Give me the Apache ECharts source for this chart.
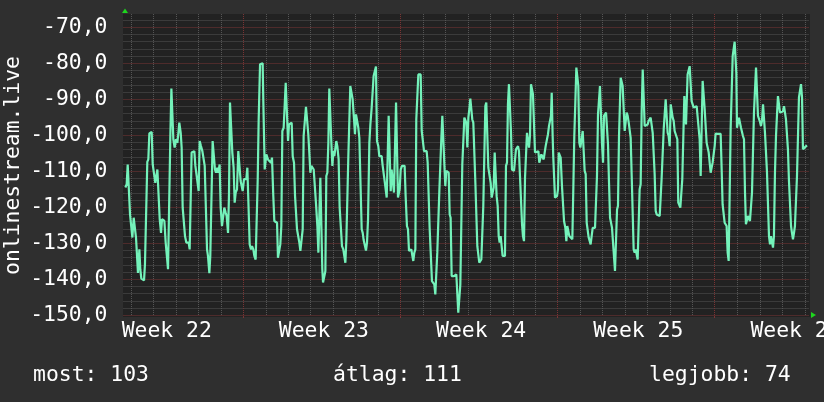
<!DOCTYPE html>
<html><head><meta charset="utf-8">
<script src="https://cdn.jsdelivr.net/npm/echarts@6/dist/echarts.min.js"></script>
<style>html,body{margin:0;padding:0;background:#2f2f2f}#c{width:824px;height:402px}</style>
</head><body><div id="c"></div>
<script>
// x = hours since the left edge of the plot, y = signal value
const seg1 = [[2.0,-114.5],[3.4,-113.6],[4.5,-108.1],[5.9,-108.5],[7.0,-122.0],[8.4,-122.4],[9.5,-128.4],[10.9,-122.9],[12.3,-123.2],[13.4,-128.4],[14.5,-128.7],[15.5,-138.2],[17.0,-131.7],[18.0,-137.2],[19.1,-139.8],[20.9,-140.0],[22.0,-140.3],[23.0,-135.8],[24.5,-135.4],[25.5,-107.4],[26.6,-106.7],[27.7,-99.5],[29.1,-99.3],[30.2,-99.1],[31.3,-108.1],[32.7,-108.5],[34.1,-113.2],[35.2,-113.2],[36.3,-109.5],[37.7,-109.9],[38.8,-123.3],[40.2,-127.1],[41.3,-123.3],[42.7,-123.3],[43.8,-123.8],[45.2,-129.8],[46.3,-130.3],[47.7,-137.2],[48.8,-137.2],[50.2,-100.2],[51.3,-87.0],[52.3,-87.2],[53.4,-101.1],[54.8,-103.4],[56.3,-101.1],[57.7,-102.1],[58.8,-99.3],[59.8,-96.5],[61.3,-99.3],[62.3,-103.4],[63.4,-120.1],[64.8,-120.6],[65.9,-128.0],[67.3,-129.8],[68.4,-129.8],[69.8,-129.8],[70.9,-131.7],[72.0,-131.7],[73.0,-104.8],[74.5,-104.4],[75.9,-104.4],[77.0,-108.5],[78.4,-111.3],[79.5,-111.3],[80.5,-115.5],[81.6,-101.6],[83.0,-103.0],[84.5,-104.4],[85.5,-104.6],[87.0,-108.5],[88.4,-108.5],[89.5,-131.7],[90.5,-133.5],[92.0,-138.3],[93.0,-133.5],[94.5,-133.5],[95.5,-101.6],[96.6,-101.6],[98.0,-109.5],[99.1,-110.4],[100.5,-109.0],[101.6,-110.4],[103.0,-108.1],[104.1,-120.1],[105.5,-125.2],[106.6,-125.4],[108.0,-120.1],[109.5,-121.5],[110.5,-122.4],[112.0,-127.1],[113.0,-116.9],[114.1,-90.9],[115.5,-90.8],[116.6,-104.8],[118.0,-109.0],[119.1,-118.7],[120.2,-115.9],[121.6,-115.0],[123.0,-104.4],[124.1,-103.9],[125.5,-112.7],[126.6,-113.2],[127.7,-115.5],[129.1,-112.2],[130.5,-112.2],[131.6,-112.2],[132.7,-109.0],[134.1,-109.0],[135.2,-130.3],[136.6,-131.7],[137.7,-130.8],[139.1,-131.7],[140.2,-133.5],[141.6,-134.5],[142.7,-134.9],[143.8,-112.2],[144.8,-96.0],[146.3,-80.3],[147.7,-79.8]];
const seg2 = [[149.1,-80.0],[149.8,-90.5],[151.3,-109.5],[152.3,-109.5],[153.0,-105.3],[154.8,-106.7],[156.3,-106.2],[158.0,-107.6],[159.1,-106.2],[160.5,-116.9],[161.6,-123.8],[163.0,-124.3],[164.5,-124.3],[165.5,-134.0],[167.0,-134.0],[168.0,-130.3],[169.1,-125.2],[170.2,-98.8],[171.6,-97.9],[172.7,-97.4],[173.8,-85.4],[174.8,-85.4],[176.3,-101.6],[177.3,-97.0],[178.8,-96.5],[180.2,-96.5],[181.3,-105.8],[182.7,-107.6],[183.8,-116.9],[184.8,-117.3],[185.9,-126.1],[187.3,-126.6],[188.4,-129.8],[189.5,-132.1],[190.9,-132.1],[192.0,-126.1],[193.0,-100.2],[194.5,-99.7],[195.5,-92.1],[196.6,-92.3],[198.0,-99.7],[199.1,-104.8],[200.2,-110.4],[201.3,-108.5],[202.7,-108.5],[203.8,-109.5],[205.2,-109.9],[206.3,-119.2],[207.7,-125.2],[208.8,-132.6],[209.8,-133.1],[210.9,-111.8],[212.0,-111.8],[213.0,-137.2],[213.8,-140.9],[215.2,-140.9],[216.3,-137.7],[217.3,-111.3],[218.4,-110.4],[219.5,-102.1],[220.5,-87.0],[221.6,-87.2],[222.7,-102.1],[223.8,-108.5],[224.8,-104.4],[225.9,-105.8],[227.0,-105.3],[228.0,-101.6],[229.1,-103.0],[230.5,-106.7],[231.6,-120.1],[233.0,-120.6],[234.1,-130.8],[235.5,-131.7],[236.6,-132.1],[237.7,-135.4],[238.8,-128.9],[239.8,-128.4],[240.9,-105.8],[242.0,-105.3],[243.0,-86.3],[244.5,-86.3],[245.5,-90.0],[247.0,-95.6],[248.0,-99.7],[249.1,-94.2],[250.5,-94.2],[251.6,-97.9],[252.7,-100.7],[254.1,-115.0],[255.2,-126.1],[256.3,-127.1],[257.3,-129.1],[258.8,-129.6],[259.8,-132.0],[260.9,-129.8],[262.0,-123.3],[263.4,-102.1],[264.5,-97.0],[265.9,-92.3],[267.0,-92.3],[268.0,-83.5],[269.5,-83.5],[270.5,-80.9],[271.6,-101.6],[273.0,-103.0],[274.1,-105.8],[275.2,-105.8],[276.6,-105.8],[277.7,-108.5],[278.8,-109.0],[279.8,-112.7],[280.9,-113.2],[282.0,-117.3],[283.0,-117.3],[284.1,-94.6],[285.2,-94.2],[286.3,-115.5],[287.3,-109.5],[288.4,-109.0],[289.8,-115.9],[290.9,-115.9],[292.0,-90.9],[293.0,-90.9],[294.1,-117.3],[295.2,-117.8]];
const seg3 = [[295.9,-115.0],[297.0,-109.5],[298.4,-108.5],[299.8,-108.1],[301.2,-108.5],[302.3,-116.9],[303.7,-125.2],[304.8,-126.1],[305.9,-132.1],[307.3,-132.6],[308.4,-131.7],[309.5,-133.5],[310.5,-134.9],[311.6,-132.6],[312.7,-131.7],[313.7,-95.6],[314.8,-95.1],[315.9,-83.1],[317.0,-82.6],[318.4,-83.1],[319.5,-98.8],[320.9,-99.3],[322.0,-104.4],[323.4,-104.4],[324.8,-104.4],[325.9,-107.6],[327.0,-108.1],[328.0,-125.7],[329.5,-126.1],[330.5,-140.5],[331.6,-140.9],[333.0,-141.4],[334.1,-144.2],[335.2,-143.7],[336.2,-132.6],[337.3,-132.1],[338.4,-115.5],[339.5,-115.0],[340.5,-101.1],[341.6,-94.6],[342.7,-94.6],[343.7,-107.6],[344.8,-114.1],[345.9,-109.9],[347.3,-109.5],[348.4,-110.4],[349.5,-122.0],[350.5,-122.9],[351.6,-139.1],[353.0,-139.1],[354.1,-139.1],[355.2,-139.1],[356.6,-138.6],[357.7,-138.6],[358.7,-149.3],[359.8,-149.7],[360.9,-141.4],[362.0,-141.4],[363.0,-108.1],[364.1,-107.6],[365.2,-95.1],[366.2,-95.1],[367.3,-96.5],[368.4,-103.4],[369.5,-95.1],[370.5,-92.8],[371.6,-89.8],[372.7,-89.5],[373.7,-95.6],[374.8,-96.5],[375.9,-97.0],[377.0,-113.2],[378.0,-113.6],[379.1,-130.8],[380.2,-130.8],[381.2,-135.4],[382.3,-135.4],[383.4,-134.5],[384.5,-134.5],[385.5,-119.6],[386.6,-119.2],[387.7,-91.9],[388.7,-90.9],[389.8,-91.4],[390.9,-109.0],[392.0,-109.5],[393.4,-113.2],[394.5,-117.3],[395.5,-117.8],[396.6,-114.5],[397.7,-104.8],[398.7,-104.8],[399.8,-116.9],[400.9,-119.6],[402.0,-128.0],[403.0,-129.8],[404.1,-128.0],[405.2,-128.0],[406.2,-133.5],[407.7,-134.0],[408.7,-133.5],[409.8,-108.5],[410.9,-107.6],[411.9,-91.4],[413.0,-85.8],[414.1,-86.3],[415.2,-99.3],[416.2,-109.5],[417.3,-109.9],[418.4,-109.9],[419.5,-110.4],[420.5,-103.9],[421.6,-103.4],[422.7,-103.0],[423.7,-104.4],[424.8,-111.3],[425.9,-111.8],[427.0,-124.7],[428.0,-128.0],[429.1,-129.4],[430.2,-111.8],[431.2,-111.3],[432.3,-99.3],[433.4,-99.3],[434.5,-103.4],[435.5,-100.2],[436.6,-85.8],[437.7,-85.4],[438.7,-88.6],[439.8,-89.1],[440.9,-104.8],[442.0,-105.3],[443.0,-104.8]];
const seg4 = [[444.5,-104.4],[445.5,-107.6],[446.6,-108.1],[447.7,-105.3],[449.1,-105.8],[450.2,-106.7],[451.3,-106.2],[452.3,-103.0],[453.8,-102.5],[454.8,-99.7],[455.9,-97.4],[457.0,-97.0],[458.0,-94.6],[458.8,-88.2],[459.8,-100.2],[460.5,-106.2],[461.3,-106.7],[462.3,-117.3],[463.4,-117.8],[464.5,-116.9],[465.5,-115.0],[466.3,-104.8],[467.3,-105.3],[468.4,-106.2],[469.8,-114.1],[470.9,-114.5],[472.0,-123.8],[473.4,-125.7],[474.5,-129.4],[475.5,-125.2],[476.6,-125.7],[477.7,-128.0],[478.8,-128.4],[479.8,-128.4],[480.9,-128.9],[482.0,-114.1],[483.0,-100.2],[484.1,-90.9],[485.2,-81.2],[486.3,-81.2],[487.3,-86.3],[488.4,-102.1],[489.5,-103.4],[490.9,-103.9],[492.0,-98.8],[493.0,-98.8],[494.1,-109.9],[495.2,-110.8],[496.3,-124.3],[497.3,-124.7],[498.4,-128.4],[499.5,-128.7],[500.5,-130.3],[501.6,-130.8],[502.7,-125.7],[503.8,-125.7],[505.2,-125.7],[506.3,-125.2],[507.3,-111.3],[508.4,-94.2],[509.5,-93.7],[510.5,-86.3],[511.6,-86.8],[512.7,-102.5],[513.8,-107.6],[514.8,-94.6],[515.9,-94.2],[517.0,-93.7],[518.0,-94.2],[519.1,-102.5],[520.2,-113.2],[521.3,-122.9],[522.3,-123.3],[523.4,-125.7],[524.5,-125.7],[525.5,-126.1],[526.6,-137.7],[527.7,-137.7],[528.8,-120.6],[529.8,-119.6],[530.9,-100.2],[532.0,-100.2],[532.7,-84.0],[533.8,-84.5],[534.8,-86.3],[535.9,-86.3],[537.0,-98.8],[538.0,-98.8],[539.1,-93.7],[540.2,-94.6],[541.3,-96.5],[542.3,-97.0],[543.4,-100.7],[544.5,-111.3],[545.5,-111.8],[546.6,-131.7],[547.7,-132.6],[548.8,-131.7],[549.8,-131.7],[550.9,-134.5],[552.0,-134.5],[553.0,-115.0],[554.1,-113.6],[555.2,-93.3],[556.3,-81.7],[557.3,-81.7],[558.4,-97.4],[559.5,-97.9],[560.5,-97.4],[561.6,-97.0],[562.7,-96.0],[563.8,-96.0],[564.8,-95.1],[565.9,-95.1],[567.0,-99.3],[568.0,-99.7],[569.1,-110.8],[570.2,-121.0],[571.3,-122.0],[572.3,-122.4],[573.4,-122.4],[574.5,-122.4],[575.5,-122.4],[576.6,-111.8],[577.7,-111.3],[578.8,-98.3],[579.8,-98.3],[580.9,-90.0],[582.0,-90.0],[583.0,-99.3],[584.1,-100.2],[585.2,-103.0],[586.3,-91.4],[587.3,-91.4],[588.4,-95.1],[589.5,-96.0],[590.5,-98.8]];
const seg5 = [[590.9,-98.3],[592.0,-98.8],[593.4,-101.1],[594.4,-118.7],[595.5,-119.2],[596.6,-120.1],[597.7,-120.1],[598.7,-112.2],[599.8,-112.2],[600.9,-89.1],[601.9,-89.1],[602.7,-97.0],[603.7,-97.0],[604.4,-83.1],[605.5,-82.6],[606.6,-80.8],[607.7,-80.8],[608.7,-90.5],[609.8,-90.5],[610.9,-92.3],[611.9,-92.3],[613.0,-91.9],[614.1,-91.9],[615.2,-92.3],[616.2,-92.3],[617.3,-101.1],[618.4,-111.3],[619.4,-111.3],[620.5,-84.9],[621.6,-84.9],[622.7,-92.8],[623.7,-92.8],[624.8,-102.1],[625.9,-102.5],[627.0,-104.8],[628.0,-105.3],[629.1,-110.4],[630.2,-110.4],[631.2,-107.6],[632.3,-107.6],[633.4,-103.0],[634.4,-99.5],[635.5,-99.5],[636.6,-99.6],[637.7,-99.6],[638.7,-99.6],[639.8,-99.6],[640.9,-109.5],[641.9,-119.2],[643.0,-119.6],[644.1,-124.3],[645.2,-124.7],[646.2,-125.2],[647.3,-132.6],[648.4,-134.9],[649.4,-134.5],[650.5,-98.3],[651.6,-97.9],[652.7,-78.0],[653.7,-77.5],[654.8,-74.0],[655.9,-74.3],[656.6,-82.6],[657.3,-97.9],[658.4,-98.3],[659.4,-95.1],[660.5,-95.1],[661.6,-97.9],[662.7,-98.3],[663.7,-100.2],[664.8,-101.1],[665.9,-115.9],[666.9,-124.7],[668.0,-124.7],[669.1,-122.4],[670.2,-122.4],[671.2,-123.8],[672.3,-123.8],[673.4,-115.9],[674.4,-115.5],[675.5,-93.7],[676.6,-93.7],[677.7,-81.2],[678.7,-81.2],[679.8,-94.6],[680.9,-95.1],[682.0,-96.3],[683.0,-97.4],[684.1,-96.0],[685.2,-91.4],[686.2,-90.9],[687.3,-99.3],[688.4,-99.7],[689.4,-109.9],[690.5,-110.4],[691.6,-128.0],[692.7,-130.3],[693.7,-128.0],[694.8,-128.0],[695.9,-131.2],[696.9,-128.0],[698.0,-110.4],[699.1,-100.2],[700.2,-94.2],[701.2,-89.1],[702.3,-89.5],[703.4,-93.7],[704.4,-94.2],[705.5,-93.7],[706.6,-93.3],[707.7,-91.9],[708.7,-91.9],[709.8,-95.6],[710.9,-96.0],[711.9,-103.9],[713.0,-112.7],[714.1,-113.2],[715.2,-125.2],[716.2,-127.1],[717.3,-128.9],[718.4,-127.1],[719.4,-125.2],[720.5,-124.7],[721.6,-111.3],[722.7,-111.3],[723.7,-89.5],[724.8,-89.5],[725.9,-85.8],[727.0,-89.5],[728.0,-103.9],[729.1,-103.9],[730.2,-103.3],[731.2,-103.0],[732.3,-102.8]];

const weekNumbers = [22, 23, 24, 25, 26];
const axisName = 'onlinestream.live';
const statLabels = ['most: 103', 'átlag: 111', 'legjobb: 74'];

const series = seg1.concat(seg2, seg3, seg4, seg5);

const FONT = 'DejaVu Sans Mono';
const TXT = '#ffffff';
const GRAY = '#555555';
const RED = '#7a3434';
const NONE = 'rgba(0,0,0,0)';
const FS = 21.4;

const hidden = { show: false };
function hiddenAxis(gi) {
  return { type: 'value', gridIndex: gi, min: 0, max: 1, axisLine: hidden, axisTick: hidden, axisLabel: hidden, splitLine: hidden };
}
const gridBase = { outerBoundsMode: 'none', containLabel: false, show: false };
const txtFont = FS + 'px "' + FONT + '"';

const chart = echarts.init(document.getElementById('c'), null, { renderer: 'canvas' });
chart.setOption({
  backgroundColor: '#2f2f2f',
  animation: false,
  graphic: [
    { type: 'rect', z: -10, shape: { x: 123, y: 14, width: 687, height: 303 }, style: { fill: '#222222' } },
    { type: 'polygon', z: 10, shape: { points: [[125, 8.5], [122, 13], [128, 13]] }, style: { fill: '#1ed61e' } },
    { type: 'polygon', z: 10, shape: { points: [[816, 315], [811, 312], [811, 318]] }, style: { fill: '#1ed61e' } },
    { type: 'text', left: 33, top: 365, style: { text: statLabels[0], fill: TXT, font: txtFont } },
    { type: 'text', left: 333, top: 365, style: { text: statLabels[1], fill: TXT, font: txtFont } },
    { type: 'text', left: 649, top: 365, style: { text: statLabels[2], fill: TXT, font: txtFont } }
  ],
  grid: [
    Object.assign({ left: 123, right: 14, top: 14, bottom: 85 }, gridBase),
    Object.assign({ left: 123.5, right: 14.5, top: 20.1, bottom: 86.7 }, gridBase),
    Object.assign({ left: 131, right: 19.2, top: 14, bottom: 86 }, gridBase),
    Object.assign({ left: 123.5, right: 14.5, top: 27.3, bottom: 86.7 }, gridBase),
    Object.assign({ left: 166.7, right: 28.5, top: 14, bottom: 86 }, gridBase),
    Object.assign({ left: 243.5, right: 109.5, top: 14, bottom: 86 }, gridBase)
  ],
  xAxis: [
    hiddenAxis(0),
    hiddenAxis(1),
    { type: 'value', gridIndex: 2, min: 0, max: 30, interval: 1, axisLine: hidden, axisTick: hidden, axisLabel: hidden,
      splitLine: { show: true, lineStyle: { color: [GRAY, GRAY, GRAY, GRAY, GRAY, NONE, GRAY], width: 1, type: [1, 1] } } },
    { type: 'value', gridIndex: 3, min: 0, max: 735, axisLine: hidden, axisTick: hidden, axisLabel: hidden, splitLine: hidden },
    { type: 'value', gridIndex: 4, min: weekNumbers[0], max: weekNumbers[weekNumbers.length - 1], interval: 1,
      axisLine: hidden, axisTick: hidden, splitLine: hidden,
      axisLabel: { show: true, margin: 5, color: TXT, fontFamily: FONT, fontSize: FS,
        formatter: v => 'Week ' + v } },
    { type: 'value', gridIndex: 5, min: 0, max: 21, interval: 7, axisLine: hidden,
      axisTick: { show: true, length: 2, lineStyle: { color: RED } }, axisLabel: hidden,
      splitLine: { show: true, lineStyle: { color: RED, width: 1, type: [1, 1] } } }
  ],
  yAxis: [
    Object.assign(hiddenAxis(0), { name: axisName, nameLocation: 'middle', nameGap: 99,
      nameTextStyle: { color: TXT, fontFamily: FONT, fontSize: FS } }),
    { type: 'value', gridIndex: 1, min: -150, max: -68, interval: 2, axisLine: hidden, axisTick: hidden, axisLabel: hidden,
      splitLine: { show: true, lineStyle: { color: [RED, GRAY, GRAY, GRAY, GRAY], width: 1, type: [1, 1] } } },
    hiddenAxis(2),
    { type: 'value', gridIndex: 3, min: -150, max: -70, interval: 10, axisLine: hidden, axisTick: hidden,
      axisLabel: { show: true, margin: 16, color: TXT, fontFamily: FONT, fontSize: FS, padding: [5, 0, 0, 0],
        formatter: v => v.toFixed(1).replace('.', ',') },
      splitLine: hidden },
    hiddenAxis(4),
    hiddenAxis(5)
  ],
  series: [{
    type: 'line', xAxisIndex: 3, yAxisIndex: 3, data: series, showSymbol: false, symbol: 'none',
    lineStyle: { color: '#74f2ba', width: 2.2 }, z: 5, silent: true
  }]
});
</script></body></html>
